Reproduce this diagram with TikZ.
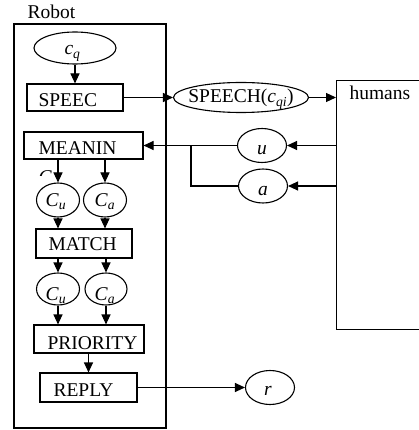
\documentclass[tikz,border=0pt]{standalone}
\usepackage{fontspec}
\setmainfont{Liberation Serif}
\usetikzlibrary{arrows.meta,shapes.geometric}
\begin{document}
\begin{tikzpicture}[x=1pt,y=-1pt, line width=1.1pt, font=\fontsize{19.5}{22}\selectfont,
 arr/.style={-{Triangle[length=10pt,width=9pt]}},
 box/.style={draw, inner sep=0pt},
 ell/.style={draw, ellipse, inner sep=0pt},
 txt/.style={inner sep=0pt}]
\useasboundingbox[fill=white] (0,0) rectangle (419,430);
% containers
\node[box, minimum width=152pt, minimum height=404pt] (robot) at (90,226) {};
\node[txt, anchor=base west] (robotlbl) at (27,19) {Robot};
\node[box, minimum width=100pt, minimum height=249pt, anchor=north west] (humans) at (336,80) {};
\node[txt, anchor=base west] (humanst) at (349,100) {humans};
% top
\node[ell, minimum width=82pt, minimum height=32pt] (cq) at (75,48) {};
\node[txt, anchor=base] (cqt) at (72.5,55) {\textit{c}\textsubscript{\textit{q}}};
\node[box, minimum width=96pt, minimum height=27pt] (speec) at (75,97.5) {};
\node[txt, anchor=base west] (speect) at (38,107) {SPEEC};
\node[ell, minimum width=135pt, minimum height=30pt] (speech) at (241,97.5) {};
\node[txt, anchor=base] (speecht) at (241,103) {SPEECH(\textit{c}\textsubscript{\textit{qi}})};
% meaning
\node[box, minimum width=119pt, minimum height=27pt] (meanin) at (83.5,145.5) {};
\node[txt, anchor=base west] (meanint) at (38,155) {MEANIN};
\node[ell, minimum width=49pt, minimum height=34pt] (u) at (262,145.5) {};
\node[txt, anchor=base] (ut) at (262,155) {\textit{u}};
\node[ell, minimum width=49pt, minimum height=34pt] (a) at (263,186) {};
\node[txt, anchor=base] (at) at (263,196) {\textit{a}};
\coordinate (j) at (191,145.5);
% clipped fragment
\begin{scope}
\clip (34,165) rectangle (56,176);
\node[txt, anchor=base west] (frag) at (38,184) {\textit{C}};
\end{scope}
% row 1
\node[ell, minimum width=43pt, minimum height=34pt] (cu1) at (58,200) {};
\node[txt, anchor=base] (cu1t) at (56,206) {\textit{C}\textsubscript{\textit{u}}};
\node[ell, minimum width=43pt, minimum height=34pt] (ca1) at (105,200) {};
\node[txt, anchor=base] (ca1t) at (105,206) {\textit{C}\textsubscript{\textit{a}}};
\node[box, minimum width=96pt, minimum height=29pt] (match) at (84,243.5) {};
\node[txt, anchor=base west] (matcht) at (48,250.5) {MATCH};
% row 2
\node[ell, minimum width=43pt, minimum height=32pt] (cu2) at (58,289) {};
\node[txt, anchor=base] (cu2t) at (56,300) {\textit{C}\textsubscript{\textit{u}}};
\node[ell, minimum width=42pt, minimum height=32pt] (ca2) at (106,289) {};
\node[txt, anchor=base] (ca2t) at (105,300) {\textit{C}\textsubscript{\textit{a}}};
\node[box, minimum width=110pt, minimum height=28pt] (priority) at (89,339) {};
\node[txt, anchor=base west] (priorityt) at (47,349) {PRIORITY};
\node[box, minimum width=97pt, minimum height=29pt] (reply) at (88.5,387.5) {};
\node[txt, anchor=base west] (replyt) at (53,396) {REPLY};
\node[ell, minimum width=49pt, minimum height=34pt] (r) at (270,387.5) {};
\node[txt, anchor=base] (rt) at (268,395) {\textit{r}};
% connectors
\draw[arr] (cq.south) -- (speec.north);
\draw[arr] (speec.east) -- (speech.west);
\draw[arr] (speech.east) -- (speech.east -| humans.west);
\draw[arr] (u.east -| humans.west) -- (u.east);
\draw[arr] (a.east -| humans.west) -- (a.east);
\draw[arr] (u.west) -- (meanin.east);
\draw (a.west) -| (j);
\draw[arr] (cu1.north |- meanin.south) -- (cu1.north);
\draw[arr] (ca1.north |- meanin.south) -- (ca1.north);
\draw[arr] (cu1.south) -- (cu1.south |- match.north);
\draw[arr] (ca1.south) -- (ca1.south |- match.north);
\draw[arr] (cu2.north |- match.south) -- (cu2.north);
\draw[arr] (ca2.north |- match.south) -- (ca2.north);
\draw[arr] (cu2.south) -- (cu2.south |- priority.north);
\draw[arr] (ca2.south) -- (ca2.south |- priority.north);
\draw[arr] (reply.north |- priority.south) -- (reply.north);
\draw[arr] (reply.east) -- (r.west);
\end{tikzpicture}
\end{document}
